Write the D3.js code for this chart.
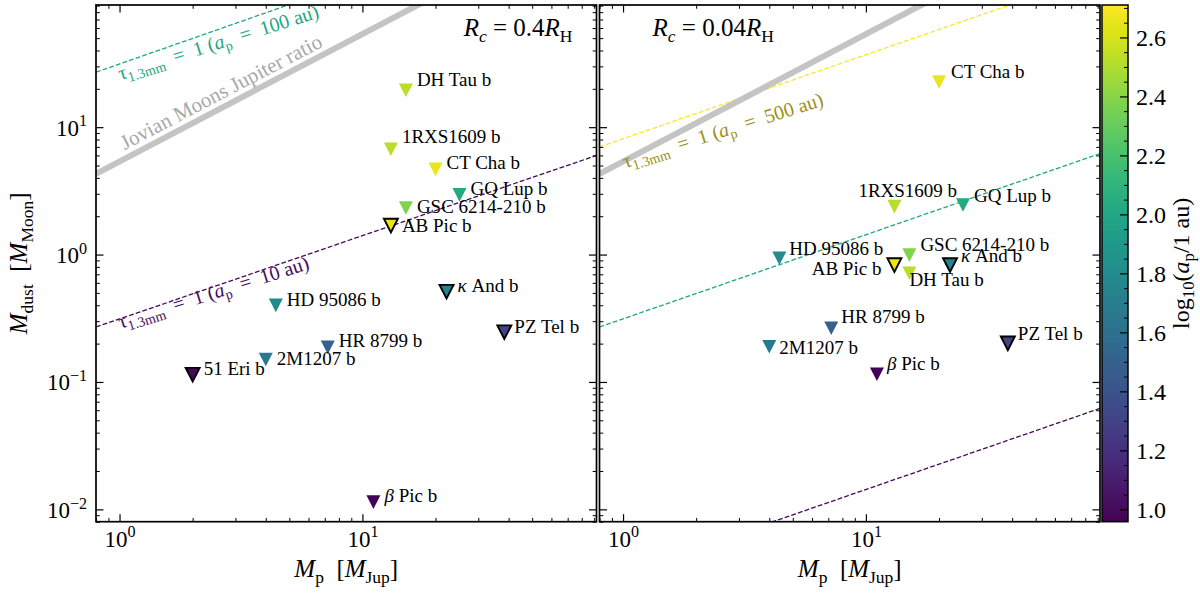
<!DOCTYPE html>
<html>
<head>
<meta charset="utf-8">
<script src="https://cdn.jsdelivr.net/npm/d3@7"></script>
<style>
  body { margin: 0; background: #fff; }
  svg, text, tspan { font-family: "Liberation Serif", "DejaVu Serif", serif; }
  text { white-space: pre; }
</style>
</head>
<body>
<svg id="chart" width="1200" height="600"></svg>
<script>
// ---- values ----
const planets   = ["51 Eri b", "β Pic b", "HR 8799 b", "2M1207 b", "HD 95086 b", "κ And b", "PZ Tel b",
                   "GQ Lup b", "GSC 6214-210 b", "AB Pic b", "DH Tau b", "1RXS1609 b", "CT Cha b"];
const massJup   = [2.0, 11.1, 7.2, 4.0, 4.4, 22.2, 38.4, 25.1, 15.1, 13.1, 15.1, 13.1, 20.0];
const logSepAu  = [1.0, 0.97, 1.50, 1.66, 1.79, 1.75, 1.32, 2.02, 2.38, 2.65, 2.52, 2.52, 2.66];
// upper limits on dust mass [M_Moon], Rc = 0.4 R_H (left) and 0.04 R_H (right)
const dustWide  = [0.114, 0.0114, 0.187, 0.150, 0.399, 0.511, 0.246, 2.94, 2.32, 1.69, 19.5, 6.71, 4.66];
const dustTight = [null, 0.115, 0.264, 0.189, 0.935, 0.828, 0.201, 2.45, 0.99, 0.828, 0.713, 2.38, 22.6];

// reference lines: dust mass at the two ends of the mass axis
const lineMass     = [0.8, 92];
const jovianRatio  = [4.3, 495];
const tauWide10    = [0.27, 6.0];
const tauWide100   = [27, 640];
const tauTight10   = [0.0027, 0.062];
const tauTight100  = [0.27, 6.2];
const tauTight500  = [7.0, 160];

const xMajor = [1, 10];
const yMajor = [0.01, 0.1, 1, 10];
const cMajor = [1.0, 1.2, 1.4, 1.6, 1.8, 2.0, 2.2, 2.4, 2.6];

// ---- layout ----
const FONT = '"Liberation Serif", "DejaVu Serif", serif';
const yTop = 5, yBot = 521.7;
const xDomain = [0.8, 92], yDomain = [0.008, 91], cDomain = [0.958, 2.71];
const outlined = new Set(["51 Eri b", "κ And b", "PZ Tel b", "AB Pic b"]);

// label offsets (px) from marker centre: [dx, dy, anchor]
const nudgeWide = {
  "DH Tau b": [11, -4], "1RXS1609 b": [11, -6], "GSC 6214-210 b": [11, 5], "AB Pic b": [11, 6],
  "2M1207 b": [11, 5], "HD 95086 b": [11, 1], "PZ Tel b": [10, 1]
};
const nudgeTight = {
  "CT Cha b": [12, -4], "1RXS1609 b": [-36, -10], "GQ Lup b": [11, -3], "GSC 6214-210 b": [11, -4],
  "HD 95086 b": [10, -3], "AB Pic b": [-13, 10, "end"], "κ And b": [11, -3], "DH Tau b": [0, 13],
  "HR 8799 b": [10, -5], "2M1207 b": [10, 7], "β Pic b": [10, -4], "PZ Tel b": [10, -3]
};

const svg = d3.select("#chart").style("font-family", FONT);
const defs = svg.append("defs");
const color = d3.scaleSequential(d3.interpolateViridis).domain(cDomain);
const y = d3.scaleLog().domain(yDomain).range([yBot, yTop]);

function rich(text, parts, size) {
  let shift = 0;
  text.style("font-family", FONT);
  parts.forEach(p => {
    const small = p.sub || p.sup;
    const off = p.sub ? size * 0.22 : p.sup ? -size * 0.4 : 0;
    text.append("tspan")
      .attr("dy", off - shift)
      .attr("font-size", small ? size * 0.7 : size)
      .attr("font-style", p.i ? "italic" : null)
      .text(p.t);
    shift = off;
  });
  return text;
}

function minorLog(domain) {
  const out = [];
  for (let e = -3; e <= 2; e++) {
    for (let k = 2; k <= 9; k++) {
      const v = k * Math.pow(10, e);
      if (v >= domain[0] * 0.999 && v <= domain[1]) out.push(v);
    }
  }
  return out;
}

const tauLabel = (au) => [
  {t: "τ"}, {t: "1.3mm", sub: true}, {t: "  =  1 ("}, {t: "a", i: true}, {t: "p", sub: true}, {t: `  =  ${au} au)`}
];

const panels = [
  {
    x0: 96, x1: 596.5, dust: dustWide, nudge: nudgeWide, yLabels: true,
    title: {anchor: "end", dx: -24, parts: [{t: "R", i: true}, {t: "c", sub: true, i: true}, {t: " = 0.4"}, {t: "R", i: true}, {t: "H", sub: true}]},
    lines: [
      {v: tauWide100, ap: 100, dash: true},
      {v: tauWide10, ap: 10, dash: true},
      {v: jovianRatio, gray: true}
    ],
    notes: [
      {m: 1.01, d: 23.4, rot: -17.5, ap: 100, parts: tauLabel(100), size: 20},
      {m: 1.01, d: 0.262, rot: -17.5, ap: 10, parts: tauLabel(10), size: 20},
      {m: 1.05, d: 6.6, rot: -27.6, gray: true, parts: [{t: "Jovian Moons Jupiter ratio"}], size: 21}
    ]
  },
  {
    x0: 599.5, x1: 1100, dust: dustTight, nudge: nudgeTight, yLabels: false,
    title: {anchor: "start", dx: 53, parts: [{t: "R", i: true}, {t: "c", sub: true, i: true}, {t: " = 0.04"}, {t: "R", i: true}, {t: "H", sub: true}]},
    lines: [
      {v: tauTight500, ap: 500, dash: true},
      {v: tauTight100, ap: 100, dash: true},
      {v: tauTight10, ap: 10, dash: true},
      {v: jovianRatio, gray: true}
    ],
    notes: [
      {m: 1.02, d: 4.77, rot: -17.5, ap: 500, dark: true, parts: tauLabel(500), size: 20}
    ]
  }
];

panels.forEach((p, pi) => {
  const x = d3.scaleLog().domain(xDomain).range([p.x0, p.x1]);
  const g = svg.append("g");

  const clipId = `clip${pi}`;
  defs.append("clipPath").attr("id", clipId)
    .append("rect").attr("x", p.x0).attr("y", yTop).attr("width", p.x1 - p.x0).attr("height", yBot - yTop);

  // reference lines
  const lineGen = d3.line().x(d => x(d[0])).y(d => y(d[1]));
  const lg = g.append("g").attr("clip-path", `url(#${clipId})`);
  p.lines.forEach(l => {
    const pts = lineMass.map((m, i) => [m, l.v[i]]);
    lg.append("path")
      .attr("d", lineGen(pts))
      .attr("fill", "none")
      .attr("stroke", l.gray ? "#c4c4c4" : color(Math.log10(l.ap)))
      .attr("stroke-width", l.gray ? 6 : 1.3)
      .attr("stroke-dasharray", l.dash ? "4.8,2.2" : null);
  });

  // line annotations
  p.notes.forEach(n => {
    let c = n.gray ? "#a8a8a8" : color(Math.log10(n.ap));
    if (n.dark) c = d3.color(c).darker(1.35).formatHex();
    const t = g.append("text")
      .attr("transform", `translate(${x(n.m)},${y(n.d)}) rotate(${n.rot})`)
      .attr("fill", c);
    rich(t, n.parts, n.size);
  });

  // axes: inward ticks on all four sides
  const axes = [
    {ax: d3.axisBottom(x), tr: `translate(0,${yBot})`, major: xMajor, minor: minorLog(xDomain), lab: "x"},
    {ax: d3.axisTop(x), tr: `translate(0,${yTop})`, major: xMajor, minor: minorLog(xDomain), lab: null},
    {ax: d3.axisLeft(y), tr: `translate(${p.x0},0)`, major: yMajor, minor: minorLog(yDomain), lab: p.yLabels ? "y" : null},
    {ax: d3.axisRight(y), tr: `translate(${p.x1},0)`, major: yMajor, minor: minorLog(yDomain), lab: null}
  ];
  axes.forEach(a => {
    g.append("g").attr("transform", a.tr)
      .call(a.ax.tickValues(a.minor).tickSize(-3.8).tickFormat(() => ""))
      .call(s => s.select(".domain").remove())
      .selectAll("line").attr("stroke", "#000").attr("stroke-width", 1);
    const ag = g.append("g").attr("transform", a.tr)
      .call(a.ax.tickValues(a.major).tickSize(-7.5).tickPadding(10).tickFormat(() => ""))
      .call(s => s.select(".domain").remove());
    ag.attr("font-size", null).attr("font-family", null);
    ag.selectAll("line").attr("stroke", "#000").attr("stroke-width", 1.2);
    if (a.lab) {
      ag.selectAll(".tick text").each(function (d) {
        const t = d3.select(this).text("").attr("fill", "#000").attr("dy", null);
        if (a.lab === "x") t.attr("y", 25);
        else t.attr("x", -9).attr("y", 8);
        const e = Math.round(Math.log10(d));
        rich(t, [{t: "10"}, {t: (e < 0 ? "\u2212" : "") + Math.abs(e), sup: true}], 23);
      });
    }
  });

  // frame
  g.append("rect")
    .attr("x", p.x0).attr("y", yTop)
    .attr("width", p.x1 - p.x0).attr("height", yBot - yTop)
    .attr("fill", "none").attr("stroke", "#000").attr("stroke-width", 1.7);

  // planets
  const rows = planets.map((name, i) => ({name, m: massJup[i], d: p.dust[i], c: logSepAu[i]}))
    .filter(r => r.d != null);
  const tri = "M-7,-6.8L7,-6.8L0,6.8Z";
  g.selectAll(".pt").data(rows).join("path")
    .attr("class", "pt")
    .attr("d", tri)
    .attr("transform", r => `translate(${x(r.m)},${y(r.d)})`)
    .attr("fill", r => color(r.c))
    .attr("stroke", r => outlined.has(r.name) ? "#000" : "none")
    .attr("stroke-width", 1.9)
    .attr("stroke-linejoin", "miter");

  g.selectAll(".lab").data(rows).join("text")
    .attr("class", "lab")
    .attr("x", r => x(r.m) + (p.nudge[r.name] ? p.nudge[r.name][0] : 11))
    .attr("y", r => y(r.d) + (p.nudge[r.name] ? p.nudge[r.name][1] : 0))
    .attr("text-anchor", r => (p.nudge[r.name] && p.nudge[r.name][2]) || "start")
    .attr("font-size", 19)
    .each(function (r) {
      const t = d3.select(this).style("font-family", FONT);
      if (r.name[0] === "β" || r.name[0] === "κ") {
        rich(t, [{t: r.name[0], i: true}, {t: r.name.slice(1)}], 19);
      } else {
        t.text(r.name);
      }
    });

  // title
  const tt = svg.append("text")
    .attr("x", (p.title.anchor === "end" ? p.x1 : p.x0) + p.title.dx)
    .attr("y", 36)
    .attr("text-anchor", p.title.anchor);
  rich(tt, p.title.parts, 25);

  // x label
  const xl = svg.append("text")
    .attr("x", (p.x0 + p.x1) / 2).attr("y", 577)
    .attr("text-anchor", "middle");
  rich(xl, [{t: "M", i: true}, {t: "p", sub: true}, {t: "  ["}, {t: "M", i: true}, {t: "Jup", sub: true}, {t: "]"}], 25);
});

// y label
const yl = svg.append("text")
  .attr("transform", `translate(27,${(yTop + yBot) / 2}) rotate(-90)`)
  .attr("text-anchor", "middle");
rich(yl, [{t: "M", i: true}, {t: "dust", sub: true}, {t: "  ["}, {t: "M", i: true}, {t: "Moon", sub: true}, {t: "]"}], 25);

// ---- colorbar ----
const cb = {x0: 1102, x1: 1128};
const cy = d3.scaleLinear().domain(cDomain).range([yBot, yTop]);
const grad = defs.append("linearGradient").attr("id", "viridis")
  .attr("x1", 0).attr("y1", 1).attr("x2", 0).attr("y2", 0);
d3.range(0, 1.0001, 0.05).forEach(f => {
  grad.append("stop").attr("offset", f).attr("stop-color", d3.interpolateViridis(f));
});
svg.append("rect")
  .attr("x", cb.x0).attr("y", yTop).attr("width", cb.x1 - cb.x0).attr("height", yBot - yTop)
  .attr("fill", "url(#viridis)");

const cMinor = d3.range(0.95, 2.71, 0.05).map(v => +v.toFixed(2))
  .filter(v => v >= cDomain[0] && !cMajor.some(m => Math.abs(m - v) < 1e-6));
svg.append("g").attr("transform", `translate(${cb.x1},0)`)
  .call(d3.axisRight(cy).tickValues(cMinor).tickSize(-4).tickFormat(() => ""))
  .call(s => s.select(".domain").remove())
  .selectAll("line").attr("stroke", "#000");
const cAx = svg.append("g").attr("transform", `translate(${cb.x1},0)`)
  .call(d3.axisRight(cy).tickValues(cMajor).tickSize(-8).tickPadding(8).tickFormat(d3.format(".1f")))
  .call(s => s.select(".domain").remove());
cAx.attr("font-size", null).attr("font-family", null);
cAx.selectAll("line").attr("stroke", "#000").attr("stroke-width", 1.2);
cAx.selectAll("text").attr("font-size", 24).attr("fill", "#000").style("font-family", FONT);

svg.append("rect")
  .attr("x", cb.x0).attr("y", yTop).attr("width", cb.x1 - cb.x0).attr("height", yBot - yTop)
  .attr("fill", "none").attr("stroke", "#000").attr("stroke-width", 1.5);

const cl = svg.append("text")
  .attr("transform", `translate(1189,${(yTop + yBot) / 2}) rotate(-90)`)
  .attr("text-anchor", "middle");
rich(cl, [{t: "log"}, {t: "10", sub: true}, {t: "("}, {t: "a", i: true}, {t: "p", sub: true}, {t: "/1 au)"}], 24);
</script>
</body>
</html>
